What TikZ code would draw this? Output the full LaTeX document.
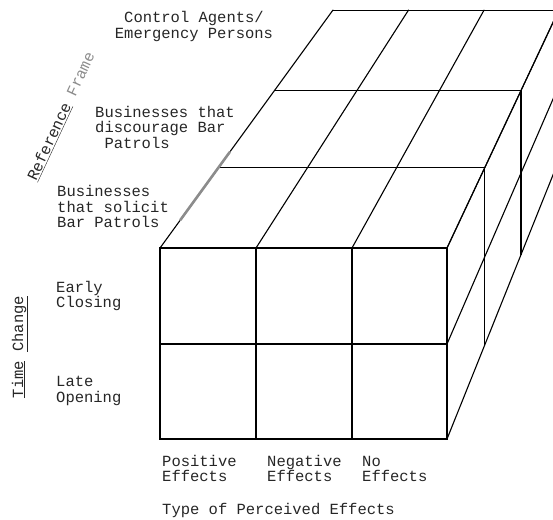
\documentclass[tikz,border=0pt]{standalone}
\usepackage{fontspec}
\newfontfamily\tw{Liberation Mono}
\usetikzlibrary{calc}
\begin{document}
\begin{tikzpicture}[x=1pt,y=-1pt,
  edge/.style={line width=1.1pt, line cap=round},
  smudge/.style={line width=2.6pt, draw=black!45, line cap=round},
  lbl/.style={font=\tw\fontsize{15.5}{15.5}\selectfont, inner sep=0pt, anchor=base west, align=left, text=black!85},
]
\useasboundingbox (0,0) rectangle (553,519);
\coordinate (V) at (972,-869);
\foreach \i/\x in {0/160,1/256,2/352,3/447}{
  \foreach \j/\y in {0/248,1/344,2/439}{
    \coordinate (F\i\j) at (\x,\y);
    \coordinate (Da\i\j) at ($(V)!0.928!(\x,\y)$);
    \coordinate (Db\i\j) at ($(V)!0.859!(\x,\y)$);
    \coordinate (Dc\i\j) at ($(V)!0.787!(\x,\y)$);
  }
}
\begin{scope}
\clip (0,0) rectangle (553,519);
% front face
\draw[edge] (F00) rectangle (F32);
\draw[edge] (F10) -- (F12) (F20) -- (F22) (F01) -- (F31);
% top face
\draw[edge] (Da00) -- (Da30) (Db00) -- (Db30) (Dc00) -- (Dc30);
\foreach \i in {0,...,3} \draw[edge] (F\i0) -- (Dc\i0);
% right face
\foreach \j in {0,1,2} \draw[edge] (F3\j) -- (Dc3\j);
\draw[edge] (Da30) -- (Da32) (Db30) -- (Db32) (Dc30) -- (Dc32);
\end{scope}
\coordinate (g1) at ($(F00)!0.118!(Dc00)$);
\coordinate (g2) at ($(F00)!0.403!(Dc00)$);
\draw[smudge] (g1) -- (g2);
% labels (base anchor = baseline of the last line)
\node[lbl, align=center, anchor=base] (ctl) at (194,38) {Control Agents/\\Emergency Persons};
\node[lbl] (disc) at (95,148) {Businesses that\\discourage Bar\\\phantom{x}Patrols};
\node[lbl] (sol) at (57,227.5) {Businesses\\that solicit\\Bar Patrols};
\node[lbl] (early) at (56,307.5) {Early\\Closing};
\node[lbl] (late) at (56,402) {Late\\Opening};
\node[lbl] (pos) at (162,481.5) {Positive\\Effects};
\node[lbl] (neg) at (267,481.5) {Negative\\Effects};
\node[lbl] (noe) at (362,481.5) {No\\Effects};
\node[lbl] (type) at (162,514.5) {Type of Perceived Effects};
\node[lbl, anchor=center, rotate=65] (ref) at (61.5,116.5) {\underline{Reference}\ \textcolor{black!45}{Frame}};
\node[lbl, anchor=center, rotate=90] (time) at (20,347) {\underline{Time}\ \underline{Change}};
\end{tikzpicture}
\end{document}
